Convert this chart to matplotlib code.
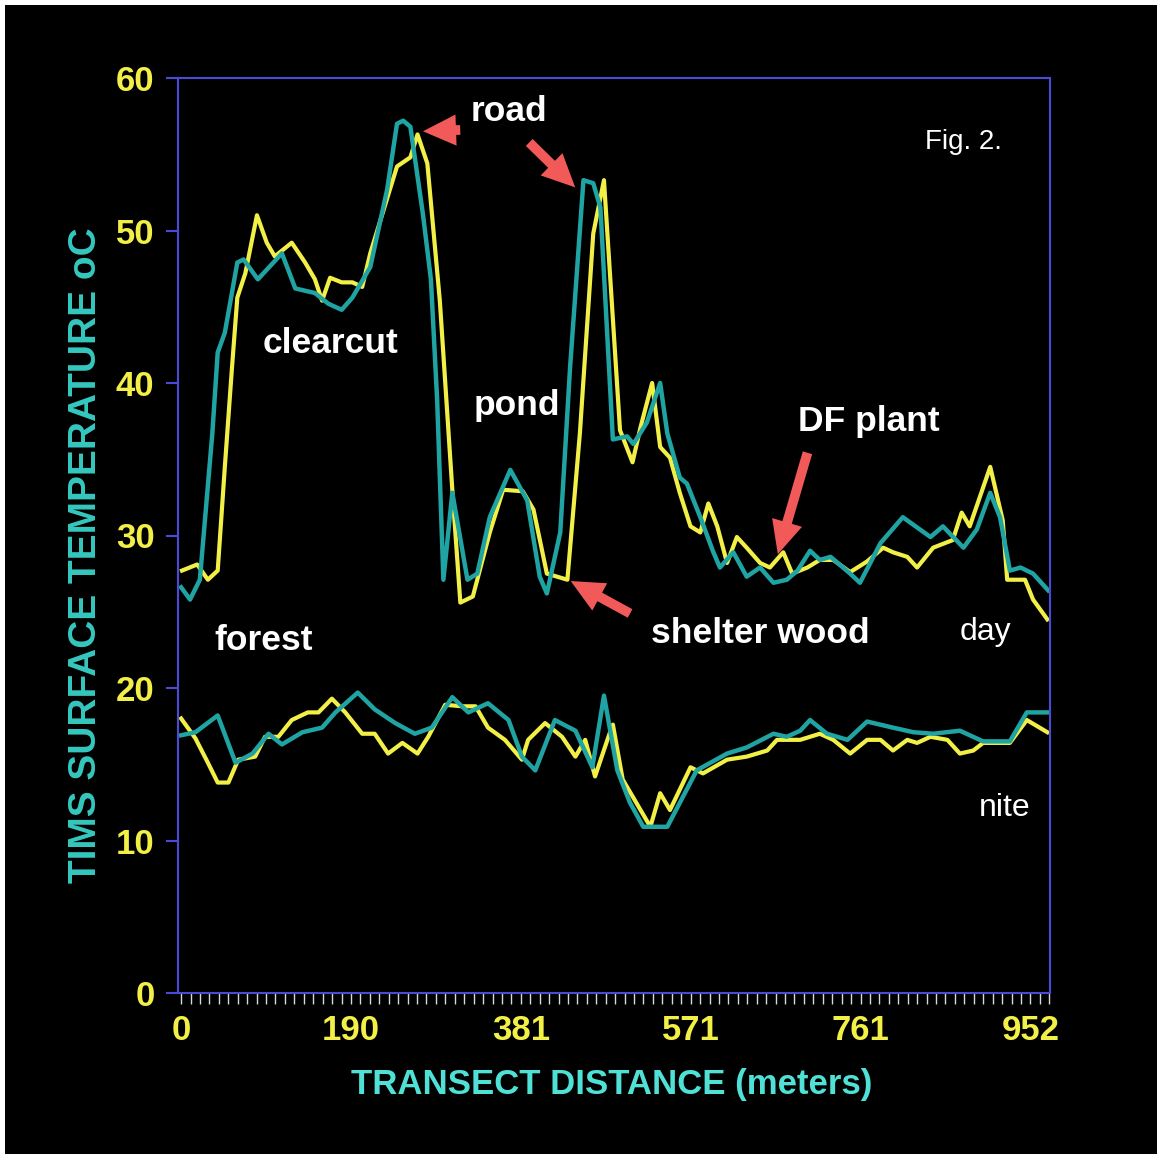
import numpy as np
import matplotlib
matplotlib.use('Agg')
import matplotlib.pyplot as plt
from matplotlib.patches import Rectangle

plt.rcParams['font.family'] = ['Liberation Sans', 'DejaVu Sans']

# dados: distancia (m) e temperatura (oC)
dia_teal_x = [0, 10, 21, 35, 41, 49, 63, 70, 86, 113, 128, 150, 165, 180, 192, 212, 231, 242, 249, 257,
              271, 280, 287, 294, 304, 321, 332, 346, 369, 388, 402, 410, 425, 436, 451, 462, 470,
              484, 500, 507, 522, 537, 545, 559, 567, 582, 596, 604, 619, 634, 649, 664, 679, 691,
              705, 716, 728, 750, 761, 784, 809, 840, 854, 877, 892, 907, 918, 929, 941, 955, 972]
dia_teal_y = [26.6, 25.8, 27.1, 36.7, 42.0, 43.3, 47.9, 48.1, 46.8, 48.5, 46.2, 45.9, 45.2, 44.8, 45.6, 47.6, 52.7, 57.0, 57.2, 56.8,
              51.1, 46.8, 38.9, 27.1, 32.8, 27.1, 27.5, 31.2, 34.3, 32.3, 27.3, 26.2, 30.2, 41.0, 53.3, 53.1, 51.5,
              36.3, 36.5, 36.0, 37.4, 40.0, 36.7, 33.8, 33.4, 31.2, 29.0, 27.9, 28.9, 27.3, 27.9, 26.9, 27.1, 27.7,
              29.0, 28.4, 28.6, 27.5, 26.9, 29.5, 31.2, 29.9, 30.6, 29.2, 30.4, 32.8, 31.2, 27.7, 27.9, 27.5, 26.4]

dia_amar_x = [1, 18, 30, 41, 49, 57, 63, 72, 85, 96, 105, 124, 139, 150, 158, 167, 180, 192, 203, 212,
              242, 257, 265, 276, 290, 304, 313, 327, 346, 361, 383, 395, 410, 433, 447, 462, 474,
              492, 506, 515, 528, 537, 548, 559, 571, 582, 591, 601, 612, 623, 634, 649, 660, 675,
              685, 702, 716, 731, 750, 769, 787, 798, 814, 825, 843, 865, 875, 884, 907, 921, 926,
              946, 955, 971]
dia_amar_y = [27.7, 28.1, 27.1, 27.7, 34.5, 41.0, 45.6, 47.2, 51.0, 49.2, 48.3, 49.2, 47.9, 46.8, 45.4, 46.9, 46.6, 46.6, 46.3, 48.5,
              54.2, 54.8, 56.3, 54.4, 45.4, 33.0, 25.6, 26.0, 30.2, 33.0, 32.9, 31.7, 27.5, 27.1, 36.7, 49.8, 53.3,
              36.9, 34.8, 37.1, 40.0, 35.8, 35.1, 32.8, 30.6, 30.2, 32.1, 30.6, 28.2, 29.9, 29.2, 28.2, 27.9, 28.9,
              27.5, 27.9, 28.4, 28.4, 27.6, 28.3, 29.2, 28.9, 28.6, 27.9, 29.2, 29.7, 31.5, 30.6, 34.5, 31.0, 27.1,
              27.1, 25.8, 24.5]

noite_teal_x = [0, 16, 41, 61, 80, 98, 113, 136, 158, 173, 198, 217, 240, 262, 281, 304, 322, 344, 367, 382,
                397, 419, 442, 461, 474, 489, 503, 518, 545, 578, 612, 634, 664, 679, 694, 705, 724,
                747, 769, 798, 821, 843, 873, 899, 929, 948, 971]
noite_teal_y = [16.9, 17.1, 18.2, 15.1, 15.7, 17.0, 16.3, 17.1, 17.4, 18.4, 19.7, 18.6, 17.7, 17.0, 17.4, 19.4, 18.4, 19.0, 17.9, 15.5,
                14.6, 17.9, 17.2, 14.8, 19.5, 14.6, 12.5, 10.9, 10.9, 14.6, 15.7, 16.1, 17.0, 16.8, 17.2, 17.9, 17.0,
                16.6, 17.8, 17.4, 17.1, 17.0, 17.2, 16.5, 16.5, 18.4, 18.4]

noite_amar_x = [0, 16, 30, 41, 53, 64, 83, 94, 109, 124, 142, 154, 169, 184, 203, 217, 232, 248, 265, 277,
                296, 315, 330, 344, 363, 382, 389, 408, 427, 442, 453, 464, 479, 484, 495, 515, 526,
                537, 548, 571, 585, 612, 634, 657, 668, 694, 716, 731, 750, 769, 784, 798, 814, 825,
                840, 859, 873, 888, 899, 929, 948, 971]
noite_amar_y = [18.0, 16.7, 15.1, 13.8, 13.8, 15.3, 15.5, 16.8, 16.8, 17.9, 18.4, 18.4, 19.3, 18.4, 17.0, 17.0, 15.7, 16.4, 15.7, 16.8,
                18.9, 18.8, 18.8, 17.4, 16.6, 15.3, 16.6, 17.7, 16.8, 15.5, 16.6, 14.2, 16.8, 17.6, 14.0, 12.0, 10.9,
                13.1, 12.0, 14.8, 14.4, 15.3, 15.5, 15.9, 16.6, 16.6, 17.0, 16.6, 15.7, 16.6, 16.6, 15.9, 16.6, 16.4,
                16.8, 16.6, 15.7, 15.9, 16.4, 16.4, 17.9, 17.1]

ticks_x = [0, 190.4, 380.8, 571.2, 761.6, 952]
rotulos_x = ['0', '190', '381', '571', '761', '952']
ticks_y = [0, 10, 20, 30, 40, 50, 60]

amarelo = '#f2f046'
teal = '#1fa3a3'
vermelho = '#f25a5a'
azul = '#4a4ad6'

fig = plt.figure(figsize=(11.63, 11.59), dpi=100, facecolor='white')
fig.patches.append(Rectangle((5 / 1163, 5 / 1159), 1 - 11 / 1163, 1 - 10 / 1159,
                             transform=fig.transFigure, facecolor='black', edgecolor='none', zorder=-10))
ax = fig.add_axes([178 / 1163, 166 / 1159, 872 / 1163, 915 / 1159])
ax.set_facecolor('black')

ax.plot(dia_amar_x, dia_amar_y, color=amarelo, lw=3)
ax.plot(dia_teal_x, dia_teal_y, color=teal, lw=3.2)
ax.plot(noite_amar_x, noite_amar_y, color=amarelo, lw=3)
ax.plot(noite_teal_x, noite_teal_y, color=teal, lw=3.2)

ax.set_xlim(-3.5, 974)
ax.set_ylim(0, 60)
for s in ax.spines.values():
    s.set_color(azul)
    s.set_linewidth(1.5)

ax.set_xticks(ticks_x)
ax.set_xticklabels(rotulos_x)
ax.set_xticks(np.arange(0, 976, 952 / 90), minor=True)
ax.tick_params(axis='x', which='minor', direction='out', length=8, width=1, color='#d8d8d8')
ax.tick_params(axis='x', which='major', direction='out', length=8, width=1, color='#d8d8d8',
               labelsize=25, labelcolor=amarelo, pad=7)
ax.set_yticks(ticks_y)
ax.tick_params(axis='y', direction='out', length=9, width=1.5, color=azul,
               labelsize=25, labelcolor=amarelo, pad=8)
for t in ax.get_xticklabels() + ax.get_yticklabels():
    t.set_fontweight('bold')

ax.set_xlabel('TRANSECT DISTANCE (meters)', fontsize=25, fontweight='bold', color='#4fe0d6', va='center')
ax.xaxis.set_label_coords(0.497, -0.1005)
ax.set_ylabel('TIMS SURFACE TEMPERATURE oC', fontsize=28, fontweight='bold', color='#35c8bf', va='center')
ax.yaxis.set_label_coords(-0.105, 0.479)

# rotulos das areas
rot = dict(color='white', fontweight='bold', fontsize=25.5, ha='center', va='center')
ax.text(367, 57.8, 'road', **rot)
ax.text(168, 42.6, 'clearcut', **rot)
ax.text(376, 38.5, 'pond', **rot)
ax.text(771, 37.5, 'DF plant', **rot)
ax.text(649, 23.6, 'shelter wood', **rot)
ax.text(92, 23.1, 'forest', **rot)
ax.text(902, 23.7, 'day', color='white', fontsize=23, ha='center', va='center')
ax.text(923, 12.1, 'nite', color='white', fontsize=23, ha='center', va='center')
ax.text(877, 55.8, 'Fig. 2.', color='white', fontsize=20, ha='center', va='center')

seta = dict(arrowstyle='simple,head_length=1.7,head_width=1.6,tail_width=0.5', color=vermelho, lw=0,
            mutation_scale=14)
ax.annotate('', xy=(268, 56.5), xytext=(316, 56.6), arrowprops=seta)
ax.annotate('', xy=(444, 52.7), xytext=(388, 55.9), arrowprops=seta)
ax.annotate('', xy=(434, 27.1), xytext=(506, 24.8), arrowprops=seta)
ax.annotate('', xy=(668, 28.6), xytext=(703, 35.6), arrowprops=seta)

plt.savefig('out.png', dpi=100, facecolor=fig.get_facecolor())
